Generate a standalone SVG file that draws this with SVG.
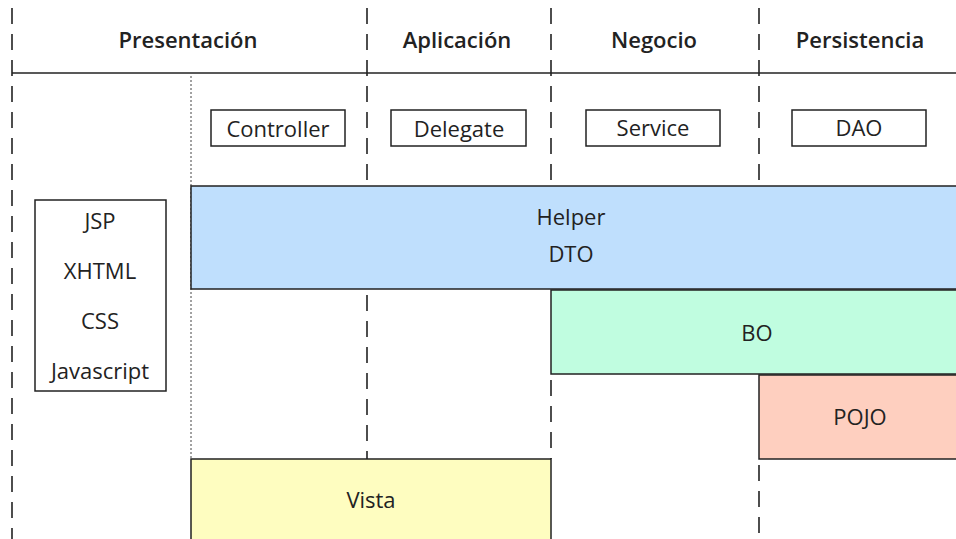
<svg xmlns="http://www.w3.org/2000/svg" width="956" height="539" viewBox="0 0 956 539">
  <style>
    text { font-family: "Open Sans", "Noto Sans", "Liberation Sans", sans-serif; fill: #222; text-anchor: middle; }
    .hdr { font-size: 22px; font-weight: 600; }
    .lbl { font-size: 22px; }
    .sep { stroke: #222; stroke-width: 1.6; stroke-dasharray: 16 10; fill: none; }
    .dot { stroke: #444; stroke-width: 1; stroke-dasharray: 2 2; fill: none; }
    .box { fill: #fff; stroke: #222; stroke-width: 1.5; }
    .band { stroke: #222; stroke-width: 1.5; }
  </style>

  <!-- layer separators and header rule -->
  <g id="connectors">
    <line x1="12" y1="73" x2="956" y2="73" stroke="#222" stroke-width="1.6"/>
    <line class="sep" x1="12" y1="8" x2="12" y2="539"/>
    <line class="sep" x1="367" y1="8" x2="367" y2="186"/>
    <line class="sep" x1="367" y1="295" x2="367" y2="459"/>
    <line class="sep" x1="551" y1="8" x2="551" y2="186"/>
    <line class="sep" x1="551" y1="380" x2="551" y2="459"/>
    <line class="sep" x1="759" y1="8" x2="759" y2="186"/>
    <line class="sep" x1="759" y1="465" x2="759" y2="539"/>
    <line class="dot" x1="191" y1="76" x2="191" y2="459"/>
  </g>

  <g id="headers">
    <text class="hdr" x="188" y="48">Presentación</text>
    <text class="hdr" x="457" y="48">Aplicación</text>
    <text class="hdr" x="654" y="48">Negocio</text>
    <text class="hdr" x="860" y="48">Persistencia</text>
  </g>

  <g id="controller">
    <rect class="box" x="211" y="110" width="134" height="36"/>
    <text class="lbl" x="278" y="137">Controller</text>
  </g>
  <g id="delegate">
    <rect class="box" x="391" y="110" width="135" height="36"/>
    <text class="lbl" x="459" y="137">Delegate</text>
  </g>
  <g id="service">
    <rect class="box" x="586" y="110" width="134" height="36"/>
    <text class="lbl" x="653" y="136">Service</text>
  </g>
  <g id="dao">
    <rect class="box" x="792" y="110" width="134" height="36"/>
    <text class="lbl" x="859" y="136">DAO</text>
  </g>

  <g id="helper-dto">
    <rect class="band" x="191" y="186" width="770" height="103" fill="#bfdffd"/>
    <text class="lbl" x="571" y="225">Helper</text>
    <text class="lbl" x="571" y="262">DTO</text>
  </g>

  <g id="web">
    <rect class="box" x="35" y="200" width="131" height="191"/>
    <text class="lbl" x="100" y="229">JSP</text>
    <text class="lbl" x="100" y="279">XHTML</text>
    <text class="lbl" x="100" y="329">CSS</text>
    <text class="lbl" x="100" y="379">Javascript</text>
  </g>

  <g id="bo">
    <rect class="band" x="551" y="290" width="410" height="84" fill="#c0fde0"/>
    <text class="lbl" x="757" y="341">BO</text>
  </g>

  <g id="pojo">
    <rect class="band" x="759" y="375" width="202" height="84" fill="#fecfbf"/>
    <text class="lbl" x="860" y="425">POJO</text>
  </g>

  <g id="vista">
    <rect class="band" x="191" y="459" width="360" height="90" fill="#fefdc0"/>
    <text class="lbl" x="371" y="508">Vista</text>
  </g>
</svg>
